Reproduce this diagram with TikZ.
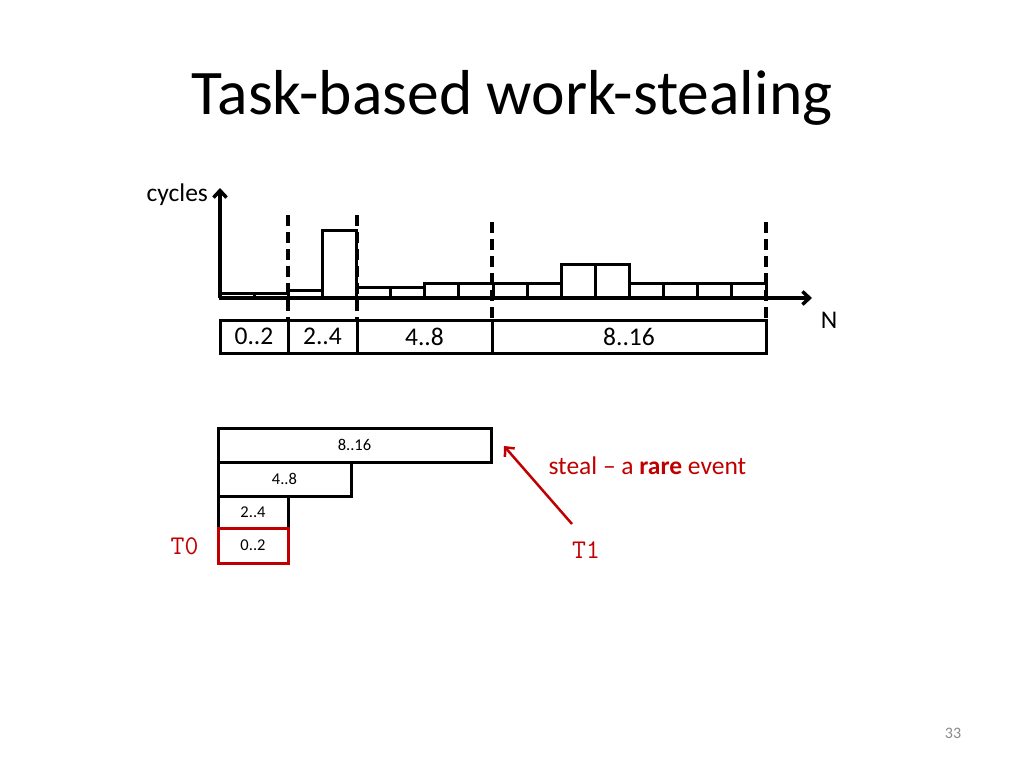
\documentclass[tikz,border=0pt]{standalone}
\usepackage{fontspec}
\setmainfont{Carlito}
\usetikzlibrary{positioning,arrows.meta}
\definecolor{stealred}{RGB}{192,0,0}
\definecolor{pagegray}{RGB}{137,137,137}
\tikzset{
  >={Straight Barb[length=7pt,width=13pt]},
  rangebox/.style={draw,line width=3pt,outer sep=0pt,inner sep=0pt,minimum height=33pt,font=\fontsize{25.5}{30}\selectfont},
  frame/.style={draw,line width=3pt,outer sep=0pt,inner sep=0pt,minimum height=34pt,anchor=north west,font=\fontsize{16.5}{19}\selectfont},
  cut/.style={line width=3.2pt,dash pattern=on 11pt off 6pt},
}
\begin{document}
\begin{tikzpicture}[x=1pt,y=-1pt]
\useasboundingbox (0,0) rectangle (1024,768);
% Title
\node[font=\fontsize{63.5}{70}\selectfont] (title) at (512,98) {Task-based work-stealing};

% Axes
\coordinate (o) at (220,298);
\draw[->,line width=3.5pt] (o) -- (220,188) node[left=7pt,pos=0.94,font=\fontsize{25.5}{30}\selectfont] (ylab) {cycles};
\draw[->,line width=3.5pt] (o) -- (812,298);
\node[font=\fontsize{25.5}{30}\selectfont] (xlab) at (829,320) {N};

% Cycles per element
\foreach \h [count=\i from 0] in {5,5,8,68,11,11,15,15,15,15,34,34,15,15,15,15} {
  \draw[line width=3pt] (220+\i*34.125,298) rectangle ++(34.125,-\h);
}

% Range cuts
\foreach \x/\t in {288/215,357/215,492/222,766/222} {
  \draw[cut] (\x,\t) -- (\x,320);
}

% Ranges
\node[rangebox,minimum width=68pt,anchor=west] (r0) at (220,336.5) {0..2};
\node[rangebox,minimum width=69pt,anchor=west] (r2) at (r0.east) {2..4};
\node[rangebox,minimum width=135pt,anchor=west] (r4) at (r2.east) {4..8};
\node[rangebox,minimum width=274pt,anchor=west] (r8) at (r4.east) {8..16};

% Task stack
\node[frame,minimum width=273pt] (s16) at (218,428) {8..16};
\node[frame,minimum width=133pt] (s8) at (s16.south west) {4..8};
\node[frame,minimum width=70pt,minimum height=32pt] (s4) at (s8.south west) {2..4};
\node[frame,minimum width=70pt,minimum height=35pt,draw=stealred] (s2) at (s4.south west) {0..2};

% Threads
\node[anchor=east,text=stealred,font=\ttfamily\fontsize{27}{30}\selectfont] (t0) at (202,546) {T0};
\node[text=stealred,font=\ttfamily\fontsize{27}{30}\selectfont] (t1) at (586,550) {T1};
\coordinate (from) at (572,524);
\coordinate (to) at (504,446);
\draw[->,stealred,line width=2.5pt] (from) -- (to);
\node[anchor=west,text=stealred,font=\fontsize{25.5}{30}\selectfont] (steal) at (545,466) {steal – a \textbf{rare} event};

% Page number
\node[text=pagegray,font=\fontsize{16}{19}\selectfont] (page) at (953,733) {33};
\end{tikzpicture}
\end{document}
